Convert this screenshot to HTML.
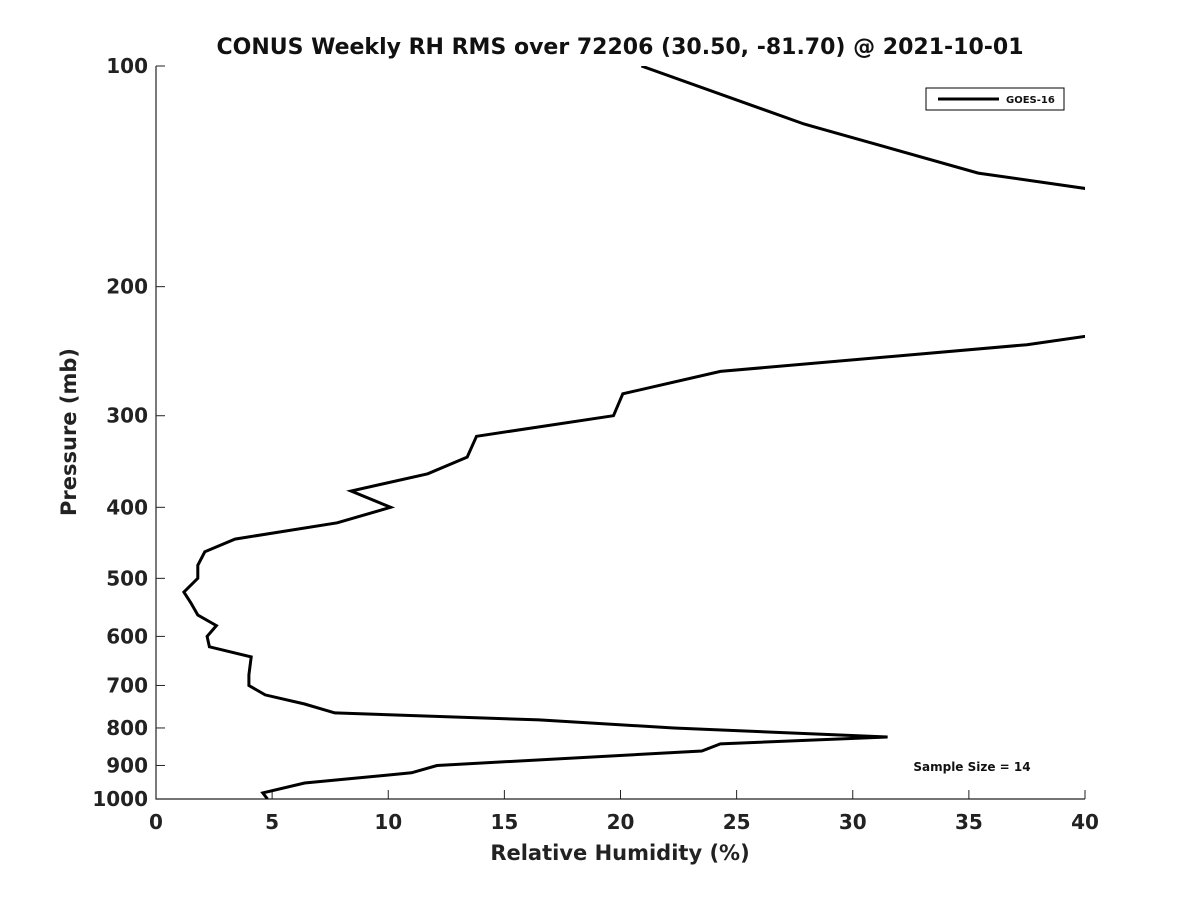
<!DOCTYPE html>
<html><head><meta charset="utf-8"><style>
body{margin:0;background:#fff;}
svg{display:block;font-family:"DejaVu Sans","Liberation Sans",sans-serif;}
</style></head><body>
<svg id="chart" width="1200" height="900">
<defs><clipPath id="clip"><rect x="156" y="66" width="929" height="733"/></clipPath></defs>
<text x="620" y="54" text-anchor="middle" font-size="22" font-weight="bold" fill="#111">CONUS Weekly RH RMS over 72206 (30.50, -81.70) @ 2021-10-01</text>
<g id="axes"></g>
<path id="series" fill="none" stroke="#000" stroke-width="3" clip-path="url(#clip)"/>
<g>
<rect x="926" y="88" width="138" height="22" fill="#fff" stroke="#000" stroke-width="1"/>
<line x1="938" y1="99" x2="999" y2="99" stroke="#000" stroke-width="3"/>
<text x="1006" y="103" font-size="10" font-weight="bold" fill="#111">GOES-16</text>
</g>
<text x="972" y="771" text-anchor="middle" font-size="12" font-weight="bold" fill="#111">Sample Size = 14</text>
<text x="620" y="860" text-anchor="middle" font-size="21" font-weight="bold" fill="#222">Relative Humidity (%)</text>
<text transform="translate(76,432) rotate(-90)" text-anchor="middle" font-size="21" font-weight="bold" fill="#222">Pressure (mb)</text>
</svg>
<script>
const pressures = [100,120,140,150,200,240,261,280,300,320,341.6,360,380,400,420,442,460,480,500,522,540,561,580,600,620,640,677,700,721,742,763,780,800,823,841,860,900,921,951,981,1000];
const rhValues = [20.9,27.9,35.4,42,55,37.5,24.3,20.1,19.7,13.8,13.4,11.7,8.4,10.1,7.8,3.4,2.1,1.8,1.8,1.2,1.5,1.8,2.6,2.2,2.3,4.1,4.0,4.0,4.7,6.4,7.7,16.5,22.3,31.5,24.3,23.5,12.1,11.0,6.4,4.6,4.8];
const xTicks = [0,5,10,15,20,25,30,35,40];
const yTicks = [100,200,300,400,500,600,700,800,900,1000];
const X0=156,X1=1085,Y0=66,Y1=799;
const xs = v => X0 + (v/40)*(X1-X0);
const ys = p => Y0 + Math.log10(p/100)*(Y1-Y0);
const NS="http://www.w3.org/2000/svg";
const axes=document.getElementById('axes');
function mk(tag,attrs,parent){const e=document.createElementNS(NS,tag);for(const k in attrs)e.setAttribute(k,attrs[k]);parent.appendChild(e);return e;}
let ax=mk('path',{d:`M${X0},${Y0}V${Y1}H${X1}`,fill:'none',stroke:'#222','stroke-width':1.2},axes);


xTicks.forEach(t=>{
  const x=xs(t);
  mk('line',{x1:x,y1:Y1,x2:x,y2:Y1-9,stroke:'#222'},axes);
  const tx=mk('text',{x:x,y:Y1+30,'text-anchor':'middle','font-size':20,'font-weight':'bold',fill:'#222'},axes);
  tx.textContent=t;
  
  
});
yTicks.forEach(t=>{
  const y=ys(t);
  mk('line',{x1:X0,y1:y,x2:X0+9,y2:y,stroke:'#222'},axes);
  const tx=mk('text',{x:X0-8,y:y+7,'text-anchor':'end','font-size':20,'font-weight':'bold',fill:'#222'},axes);
  tx.textContent=t;
  
  
});
document.getElementById('series').setAttribute('d',pressures.map((p,i)=>(i?'L':'M')+xs(rhValues[i]).toFixed(1)+','+ys(p).toFixed(1)).join(''));
</script>
</body></html>
